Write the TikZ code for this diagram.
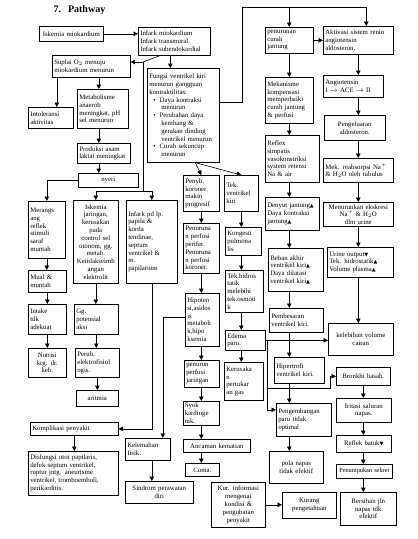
\documentclass[tikz,border=0pt]{standalone}
\usepackage{fontspec}
\setmainfont{Liberation Serif}
\newfontfamily\simbol{DejaVu Sans}
\usepackage{tikz}
\usetikzlibrary{arrows.meta}
\newcommand{\naik}{{\simbol\fontsize{5}{5}\selectfont ▲}}
\newcommand{\turun}{{\simbol\fontsize{5}{5}\selectfont ▼}}

\begin{document}
\begin{tikzpicture}[x=1pt, y=-1pt,
  box/.style={draw, line width=0.6pt, inner sep=2pt, anchor=north west, align=left, font=\fontsize{6.8}{7.8}\selectfont},
  arr/.style={-{Triangle[length=4.5pt, width=4.5pt]}, line width=0.6pt},
  ln/.style={line width=0.6pt}]
\fill[white] (0,0) rectangle (418,539);
\useasboundingbox (0,0) rectangle (418,539);

\node[anchor=west, font=\bfseries\fontsize{10}{12}\selectfont] (judul) at (50,10) {7.\hspace{7pt}Pathway};

% kolom kiri
\node[box, text width=60pt, minimum height=15pt, align=center] (isk) at (39,26) {Iskemia miokardium};
\node[box, text width=68pt, minimum height=28pt] (inf) at (138,27) {Infark miokardium\\Infark transmural\\Infark subendokardial};
\node[box, text width=74pt, minimum height=22pt] (sup) at (52,55) {Suplai O$_2$ menuju\\miokardium menurun};
\node[box, text width=41pt, minimum height=21pt] (intol) at (28,107) {Intoleransi\\aktivitas};
\node[box, text width=47pt, minimum height=39pt] (meta) at (77,89) {Metabolisme\\anaerob\\meningkat, pH\\sel menurun};
\node[box, text width=49pt, minimum height=20pt] (laktat) at (77,143) {Produksi asam\\laktat meningkat};
\node[box, text width=56pt, minimum height=14pt, align=center] (nyeri) at (78,173) {nyeri};
\node[box, text width=33pt, minimum height=57pt] (rang) at (28,201) {Merangs\\ang\\reflek\\stimuli\\saraf\\muntah};
\node[box, text width=41pt, minimum height=83pt, align=center] (iskjar) at (73,200) {Iskemia\\jaringan,\\kerusakan\\pada\\control sel\\otonom, gg.\\metab.\\Ketidakseimb\\angan\\elektrolit};
\node[box, text width=47pt, minimum height=83pt] (infpap) at (126,200) {Infark pd lp.\\papila \&\\korda\\tendinae,\\septum\\ventrikel \&\\m.\\papilarium};
\node[box, text width=34pt, minimum height=22pt] (mual) at (28,270) {Mual \&\\muntah};
\node[box, text width=34pt, minimum height=30pt] (intake) at (28,304) {Intake\\tdk\\adekuat};
\node[box, text width=34pt, minimum height=29pt, align=center] (nutrisi) at (28,348) {Nutrisi\\krg. dr.\\keb.};
\node[box, text width=40pt, minimum height=30pt] (ggpot) at (74,304) {Gg.\\potensial\\aksi};
\node[box, text width=40pt, minimum height=29pt] (elektro) at (75,348) {Perub.\\elektrofisiol\\ogis.};
\node[box, text width=38pt, minimum height=16pt, align=center] (aritmia) at (76,390) {aritmia};
\node[box, text width=84pt, minimum height=13pt] (kompl) at (30,422) {Komplikasi penyakit};
\node[box, text width=86pt, minimum height=44pt] (disf) at (28,451) {Disfungsi otot papilaris,\\defek septum ventrikel,\\ruptur jntg. aneurisme\\ventrikel, tromboemboli,\\perikarditis.};

% kolom tengah
\node[box, text width=68pt, minimum height=94pt] (fungsi) at (147,68) {Fungsi ventrikel kiri\\menurun gangguan\\kontraktilitas:\\
\hspace*{4pt}\textbullet\hspace{4pt}Daya kontraksi\\\hspace*{12pt}menurun\\
\hspace*{4pt}\textbullet\hspace{4pt}Perubahan daya\\\hspace*{12pt}kembang \&\\\hspace*{12pt}gerakan dinding\\\hspace*{12pt}ventrikel menurun\\
\hspace*{4pt}\textbullet\hspace{4pt}Curah sekuncup\\\hspace*{12pt}menurun};
\node[box, text width=32pt, minimum height=36pt] (penub) at (183,175) {Penyb.\\koroner\\makin\\progresif};
\node[box, text width=30pt, minimum height=36pt] (tekvk) at (224,175) {Tek.\\ventrikel\\kiri};
\node[box, text width=32pt, minimum height=50pt] (perfusi) at (183,223) {Penuruna\\n perfusi\\perifer.\\Penuruna\\n perfusi\\koroner.};
\node[box, text width=32pt, minimum height=28pt] (konges) at (225,227) {Kongesti\\pulmona\\lis};
\node[box, text width=34pt, minimum height=42pt] (hidro) at (225,270) {Tek.hidros\\tatik\\melebihi\\tek.osmoti\\k};
\node[box, text width=30pt, minimum height=53pt] (hipo) at (185,293) {Hipoten\\si,asidos\\is\\metaboli\\k,hipo\\ksemia};
\node[box, text width=36pt, minimum height=20pt] (edema) at (225,330) {Edema\\paru.};
\node[box, text width=31pt, minimum height=27pt] (perjar) at (184,360) {penurun\\perfusi\\jaringan};
\node[box, text width=35pt, minimum height=38pt] (kerus) at (224,362) {Kerusaka\\n\\pertukar\\an gas};
\node[box, text width=33pt, minimum height=24pt, inner sep=1.5pt] (syok) at (183,401) {Syok\\kardioge\\nik.};
\node[box, text width=63pt, minimum height=13pt, align=center] (ancam) at (183,439) {Ancaman kematian};
\node[box, text width=30pt, minimum height=13pt, align=center] (coma) at (185,463) {Coma.};
\node[box, text width=41pt, minimum height=22pt] (lemah) at (125,438) {Kelemahan\\fisik.};
\node[box, text width=64pt, minimum height=22pt, align=center] (sindrom) at (125,481) {Sindrom perawatan\\diri};
\node[box, text width=50pt, minimum height=45pt, align=center] (kurinfo) at (211,482) {Kur. informasi\\mengenai\\kondisi \&\\pengobatan\\penyakit};

% kolom kanan
\node[box, text width=44pt, minimum height=26pt] (curah) at (265,27) {penurunan\\curah\\jantung};
\node[box, text width=66pt, minimum height=28pt] (renin) at (323,26) {Aktivasi sistem renin\\angiotensin\\aldosteron.};
\node[box, text width=56pt, minimum height=22pt] (angio) at (323,75) {Angiotensin\\I $\rightarrow$ ACE $\rightarrow$ II};
\node[box, text width=44pt, minimum height=46pt] (kompen) at (265,77) {Mekanisme\\kompensasi\\memperbaiki\\curah jantung\\\& perfusi};
\node[box, text width=57pt, minimum height=25pt, align=center] (aldo) at (324,115) {Pengeluaran\\aldosteron.};
\node[box, text width=50pt, minimum height=47pt] (reflex) at (265,135) {Reflex\\simpatis\\vasokonstriksi\\system retensi\\Na \& air};
\node[box, text width=66pt, minimum height=24pt] (reab) at (323,158) {Mek. reabsorpsi Na$^{+}$\\\& H$_2$O oleh tubulus};
\node[box, text width=50pt, minimum height=33pt] (denyut) at (265,197) {Denyut jantung\naik\\Daya kontraksi\\jantung\naik};
\node[box, text width=66pt, minimum height=24pt, align=center] (ekskr) at (323,202) {Menurunkan ekskresi\\Na$^{+}$ \& H$_2$O dlm urine};
\node[box, text width=62pt, minimum height=30pt] (urine) at (327,247) {Urine output\turun\\Tek. hidrostatik\naik\\Volume plasma\naik};
\node[box, text width=51pt, minimum height=43pt] (beban) at (268,248) {Beban akhir\\ventrikel kiri\naik\\Daya dilatasi\\ventrikel kiri\naik};
\node[box, text width=50pt, minimum height=24pt] (besar) at (269,308) {Pembesaran\\ventrikel kiri.};
\node[box, text width=61pt, minimum height=32pt, align=center] (lebih) at (328,323) {kelebihan volume\\cairan};
\node[box, text width=46pt, minimum height=26pt] (hiper) at (274,357) {Hipertrofi\\ventrikel kiri.};
\node[box, text width=50pt, minimum height=18pt, align=center] (bronk) at (336,367) {Bronkhi basah.};
\node[box, text width=51pt, minimum height=24pt, align=center] (iritasi) at (336,398) {Iritasi saluran\\napas.};
\node[box, text width=51pt, minimum height=33pt] (kembang) at (276,403) {Pengembangan\\paru tidak\\optimal};
\node[box, text width=51pt, minimum height=17pt, align=center] (batuk) at (336,435) {Reflek batuk\turun};
\node[box, text width=50pt, minimum height=32pt, align=center] (pola) at (269,451) {pola napas\\tidak efektif};
\node[box, text width=52pt, minimum height=14pt, align=center, font=\fontsize{6.3}{7.5}\selectfont] (sekret) at (336,464) {Penumpukan sekret};
\node[box, text width=52pt, minimum height=33pt, align=center] (bersih) at (340,492) {Bersihan jln\\napas tdk\\efektif};
\node[box, text width=50pt, minimum height=26pt, align=center] (kurpeng) at (282,492) {Kurang\\pengetahuan};

% panah kiri
\draw[arr] (isk.east) -- (isk.east -| inf.west);
\coordinate (pisah) at (143,62);
\coordinate (cabang) at (143,191);
\draw[ln] ([xshift=22pt]inf.south west) -- (pisah);
\draw[arr] (pisah) -- (pisah -| sup.east);
\draw[ln] (pisah) -- (cabang);
\draw[arr] (cabang) -| (iskjar.north);
\draw[arr] (cabang) -| (infpap.north);
\draw[arr] ([xshift=-4pt]inf.south) -- ([xshift=-4pt]inf.south |- fungsi.north);
\draw[arr] ([xshift=6pt]intol.north |- sup.south) -- ([xshift=6pt]intol.north);
\draw[arr] ([xshift=-4pt]meta.north |- sup.south) -- ([xshift=-4pt]meta.north);
\draw[arr] ([xshift=-4pt]meta.south) -- ([xshift=-4pt]meta.south |- laktat.north);
\draw[arr] ([xshift=-4pt]meta.south |- laktat.south) -- ([xshift=-4pt]meta.south |- nyeri.north);
\draw[arr] (nyeri.west) -| (rang.north);
\draw[arr] (rang.south) -- (rang.south |- mual.north);
\draw[arr] (mual.south) -- (mual.south |- intake.north);
\draw[arr] (intake.south) -- (intake.south |- nutrisi.north);
\draw[arr] (iskjar.south) -- (iskjar.south |- ggpot.north);
\draw[arr] (ggpot.south) -- (ggpot.south |- elektro.north);
\draw[arr] (elektro.south) -- (elektro.south |- aritmia.north);
\draw[arr] (infpap.south) |- (kompl.east);
\draw[arr] (kompl.south) -- (kompl.south |- disf.north);

% panah tengah
\draw[arr] ([xshift=12pt]fungsi.south) -- (penub.north);
\draw[arr] ([xshift=12pt]fungsi.south) -- (tekvk.north);
\draw[arr] (penub.south) -- (penub.south |- perfusi.north);
\draw[arr] (penub.south |- perfusi.south) -- (penub.south |- hipo.north);
\draw[arr] (penub.south |- hipo.south) -- (penub.south |- perjar.north);
\draw[arr] (penub.south |- perjar.south) -- (penub.south |- syok.north);
\draw[arr] (penub.south |- syok.south) -- (penub.south |- ancam.north);
\draw[arr] (penub.south |- ancam.south) -- (penub.south |- coma.north);
\draw[arr] (tekvk.south) -- (tekvk.south |- konges.north);
\draw[arr] (tekvk.south |- konges.south) -- (tekvk.south |- hidro.north);
\draw[arr] (tekvk.south |- hidro.south) -- (tekvk.south |- edema.north);
\draw[arr] (tekvk.south |- edema.south) -- (tekvk.south |- kerus.north);
\draw[arr] ([yshift=3pt]hipo.west) -| ([xshift=15pt]lemah.north);
\draw[arr] ([xshift=4pt]lemah.south) -- ([xshift=4pt]lemah.south |- sindrom.north);
\draw[arr] (kurinfo.east) -- (kurinfo.east -| kurpeng.west);

% panah kanan
\coordinate (atas) at (242,7);
\coordinate (rn) at ([xshift=8pt]renin.north);
\draw[ln] ([yshift=13pt]fungsi.east) -| (atas) -- (atas -| rn);
\draw[arr] (atas -| curah.north) -- (curah.north);
\draw[arr] (atas -| rn) -- (rn);
\draw[arr] (curah.east) -- (curah.east -| renin.west);
\draw[arr] (renin.south) -- (renin.south |- angio.north);
\draw[arr] (angio.south -| renin.south) -- (aldo.north -| renin.south);
\draw[arr] (aldo.south -| renin.south) -- (reab.north -| renin.south);
\draw[arr] (reab.south -| renin.south) -- (ekskr.north -| renin.south);
\draw[arr] (ekskr.south -| renin.south) -- (urine.north -| renin.south);
\draw[arr] (urine.south -| renin.south) -- (lebih.north -| renin.south);
\draw[arr] (curah.south) -- (curah.south |- kompen.north);
\draw[arr] (kompen.south -| curah.south) -- (reflex.north -| curah.south);
\draw[arr] (reflex.south -| curah.south) -- (denyut.north -| curah.south);
\draw[arr] (denyut.south -| curah.south) -- (beban.north -| curah.south);
\draw[arr] (beban.south -| curah.south) -- (besar.north -| curah.south);
\draw[arr] (besar.south -| curah.south) -- (hiper.north -| curah.south);
\draw[arr] (hiper.south -| curah.south) -- (kembang.north -| curah.south);
\draw[arr] (kembang.south -| curah.south) -- (pola.north -| curah.south);
\coordinate (edkanan) at ([xshift=2pt]edema.east);
\coordinate (belok) at (330,388);
\draw[arr] (edema.east) -- (edema.east -| lebih.west);
\draw[arr] (edkanan) |- ([yshift=10pt]kembang.west);
\draw[arr] (edkanan |- belok) -- (belok) |- (bronk.west);
\draw[arr] (bronk.south) -- (bronk.south |- iritasi.north);
\draw[arr] (iritasi.south -| bronk.south) -- (batuk.north -| bronk.south);
\draw[arr] (batuk.south -| bronk.south) -- (sekret.north -| bronk.south);
\draw[arr] (sekret.south -| bronk.south) -- (bersih.north -| bronk.south);
\end{tikzpicture}
\end{document}
